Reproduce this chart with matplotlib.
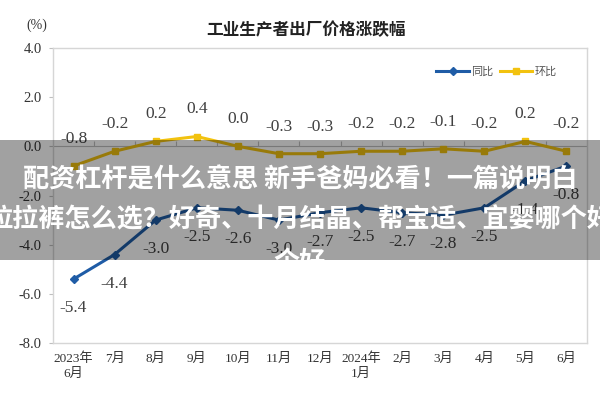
import matplotlib
matplotlib.use('Agg')
import matplotlib.pyplot as plt
import numpy as np

plt.rcParams['axes.unicode_minus'] = False

# ---- data ----
months = ['2023年\n6月', '7月', '8月', '9月', '10月', '11月', '12月',
          '2024年\n1月', '2月', '3月', '4月', '5月', '6月']
yoy = [-5.4, -4.4, -3.0, -2.5, -2.6, -3.0, -2.7, -2.5, -2.7, -2.8, -2.5, -1.4, -0.8]
mom = [-0.8, -0.2, 0.2, 0.4, 0.0, -0.3, -0.3, -0.2, -0.2, -0.1, -0.2, 0.2, -0.2]
yticks = [4.0, 2.0, 0.0, -2.0, -4.0, -6.0, -8.0]
series_names = ['同比', '环比']
title = '工业生产者出厂价格涨跌幅'
unit = '(%)'
overlay_lines = ['配资杠杆是什么意思 新手爸妈必看！一篇说明白',
                 '拉拉裤怎么选？好奇、十月结晶、帮宝适、宜婴哪个好',
                 '个好']

BLUE = '#1F5CA6'
YELLOW = '#F2C20F'
CJK = ['Noto Sans CJK SC', 'DejaVu Sans']
MIX = ['Liberation Serif', 'Noto Sans CJK SC', 'DejaVu Sans']
SERIF = ['Liberation Serif', 'DejaVu Serif']

fig = plt.figure(figsize=(6, 4), dpi=100)
fig.patch.set_facecolor('white')
ax = fig.add_axes([53/600, 1-343/400, 534/600, 295/400])

x = np.arange(len(months))
ax.set_xlim(-0.5, len(months)-0.5)
ax.set_ylim(-8, 4)

# zero line with category ticks
ax.axhline(0, color='#BFBFBF', lw=0.8, zorder=1)
ax.vlines(x[:-1] + 0.5, 0, 0.2, color='#BFBFBF', lw=0.8, zorder=1)

ax.plot(x, yoy, color=BLUE, lw=2.2, marker='D', ms=4.5, label=series_names[0], zorder=3)
ax.plot(x, mom, color=YELLOW, lw=2.2, marker='s', ms=4.5, label=series_names[1], zorder=3)

for xi, v in zip(x, yoy):
    ax.annotate(f'{v:.1f}', (xi, v), xytext=(0, -21), textcoords='offset points',
                ha='center', va='center', fontsize=12.5, family=SERIF, color='#404040')
for xi, v in zip(x, mom):
    ax.annotate(f'{v:.1f}', (xi, v), xytext=(0, 19.5), textcoords='offset points',
                ha='center', va='center', fontsize=12.5, family=SERIF, color='#404040')

for s in ax.spines.values():
    s.set_color('#D6D6D6')
    s.set_linewidth(1.0)

ax.set_yticks(yticks)
ax.set_yticklabels([f'{t:.1f}' for t in yticks], family=SERIF, fontsize=10.5, color='#333333')
ax.tick_params(axis='y', length=3, color='#BFBFBF', pad=5)
ax.set_xticks(x)
ax.set_xticklabels(months, family=MIX, fontsize=9.5, color='#333333', linespacing=1.3)
ax.tick_params(axis='x', length=0, pad=7)

fig.text(306/600, 1-30/400, title, ha='center', va='center', fontsize=12,
         fontweight='bold', family=CJK, color='#222222')
fig.text(37/600, 1-25/400, unit, ha='center', va='center', fontsize=10,
         family=SERIF, color='#333333')

fig.legend(loc='center right', bbox_to_anchor=(562/600, 1-72/400), ncol=2,
           frameon=False, handlelength=2.9, handletextpad=0.2, columnspacing=0.6,
           borderpad=0, prop={'family': CJK, 'size': 8}, labelcolor='#555555')

# overlay band
ov = fig.add_axes([0, 1-260/400, 1, 120/400])
ov.set_facecolor((0, 0, 0, 0.37))
ov.set_xticks([])
ov.set_yticks([])
for s in ov.spines.values():
    s.set_visible(False)
ov.set_xlim(0, 1)
ov.set_ylim(0, 1)
for yy, line in zip([0.667, 0.333, -0.02], overlay_lines):
    ov.text(0.5, yy, line, ha='center', va='center', fontsize=18.8, fontweight='bold',
            family=CJK, color='white', clip_on=True)

fig.savefig('out.png', dpi=100)
